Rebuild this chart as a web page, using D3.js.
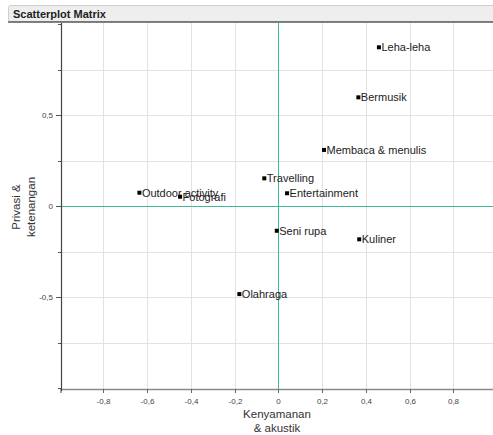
<!DOCTYPE html>
<html>
<head>
<meta charset="utf-8">
<script src="https://cdn.jsdelivr.net/npm/d3@7"></script>
<style>
  html, body { margin: 0; padding: 0; background: #fff; }
  svg { display: block; font-family: Arial, "Liberation Sans", sans-serif; }
</style>
</head>
<body>
<svg id="chart" width="493" height="435"></svg>
<script>
// ---- data ----
const labels = ["Leha-leha", "Bermusik", "Membaca & menulis", "Travelling", "Entertainment",
                "Outdoor activity", "Fotografi", "Seni rupa", "Kuliner", "Olahraga"];
const xValues = [0.46, 0.366, 0.209, -0.064, 0.04, -0.635, -0.449, -0.007, 0.37, -0.178];
const yValues = [0.872, 0.597, 0.308, 0.152, 0.07, 0.073, 0.051, -0.136, -0.183, -0.484];
const xTicks = [-0.8, -0.6, -0.4, -0.2, 0, 0.2, 0.4, 0.6, 0.8];
const yTicks = [-0.5, 0, 0.5];
const yMinorTicks = [-1, -0.75, -0.25, 0.25, 0.75, 1];
const yGrid = [-0.75, -0.5, -0.25, 0.25, 0.5, 0.75];
const title = "Scatterplot Matrix";
const xTitle = ["Kenyamanan", "& akustik"];
const yTitle = ["Privasi &", "ketenangan"];

const fmt = v => (v === 0 ? "0" : d3.format(".1f")(v).replace(".", ",").replace("−", "-"));

const svg = d3.select("#chart");
const W = 493;
const plot = { left: 61, right: 493, top: 23, bottom: 389 };

const x = d3.scaleLinear().domain([-1, 1]).range([59.55, 497.05]);
const y = d3.scaleLinear().domain([-1, 1]).range([388, 24]);

// title bar
svg.append("rect").attr("x", 8.5).attr("y", 5.5).attr("width", W).attr("height", 16)
  .attr("rx", 2).attr("fill", "#eeeeee").attr("stroke", "#cfcfcf");
svg.append("line").attr("x1", 8).attr("x2", W).attr("y1", 22).attr("y2", 22)
  .attr("stroke", "#5a5a5a").attr("stroke-width", 1.5);
svg.append("text").attr("x", 13).attr("y", 17.5).attr("font-size", 11)
  .attr("font-weight", "bold").attr("fill", "#222").text(title);

// clip
svg.append("clipPath").attr("id", "clip").append("rect")
  .attr("x", plot.left).attr("y", plot.top)
  .attr("width", plot.right - plot.left).attr("height", plot.bottom - plot.top);

const g = svg.append("g").attr("clip-path", "url(#clip)");

// grid
g.selectAll(".vg").data(xTicks.filter(d => d !== 0)).enter().append("line")
  .attr("x1", d => Math.round(x(d)) + 0.5).attr("x2", d => Math.round(x(d)) + 0.5)
  .attr("y1", plot.top).attr("y2", plot.bottom)
  .attr("stroke", "#e2e2e2").attr("stroke-width", 1);
g.selectAll(".hg").data(yGrid).enter().append("line")
  .attr("y1", d => Math.round(y(d)) + 0.5).attr("y2", d => Math.round(y(d)) + 0.5)
  .attr("x1", plot.left).attr("x2", plot.right)
  .attr("stroke", "#e2e2e2").attr("stroke-width", 1);

// zero lines
g.append("line").attr("x1", Math.round(x(0)) + 0.5).attr("x2", Math.round(x(0)) + 0.5)
  .attr("y1", plot.top).attr("y2", plot.bottom).attr("stroke", "#3fb99a");
g.append("line").attr("y1", Math.round(y(0)) + 0.5).attr("y2", Math.round(y(0)) + 0.5)
  .attr("x1", plot.left).attr("x2", plot.right).attr("stroke", "#3fb99a");

// x axis
svg.append("line").attr("x1", plot.left).attr("x2", plot.right)
  .attr("y1", plot.bottom + 0.5).attr("y2", plot.bottom + 0.5)
  .attr("stroke", "#8a8a8a").attr("stroke-width", 1.5);
const xt = svg.selectAll(".xt").data(xTicks).enter().append("g")
  .attr("transform", d => `translate(${Math.round(x(d)) + 0.5},0)`);
xt.append("line").attr("y1", plot.bottom).attr("y2", plot.bottom + 4).attr("stroke", "#666");
xt.append("text").attr("y", 404).attr("text-anchor", "middle").attr("font-size", 8)
  .attr("fill", "#444").text(d => fmt(d));
svg.append("line").attr("x1", plot.left).attr("x2", plot.left)
  .attr("y1", plot.bottom).attr("y2", plot.bottom + 4).attr("stroke", "#444");

// y axis
svg.append("line").attr("x1", plot.left + 0.5).attr("x2", plot.left + 0.5)
  .attr("y1", plot.top).attr("y2", plot.bottom + 2).attr("stroke", "#444").attr("stroke-width", 1.2);
svg.selectAll(".ymt").data(yMinorTicks).enter().append("line")
  .attr("x1", plot.left - 3).attr("x2", plot.left)
  .attr("y1", d => Math.round(y(d)) + 0.5).attr("y2", d => Math.round(y(d)) + 0.5)
  .attr("stroke", "#555");
const yt = svg.selectAll(".yt").data(yTicks).enter().append("g")
  .attr("transform", d => `translate(0,${Math.round(y(d)) + 0.5})`);
yt.append("line").attr("x1", plot.left - 5).attr("x2", plot.left).attr("stroke", "#555");
yt.append("text").attr("x", 53).attr("dy", "0.35em").attr("text-anchor", "end")
  .attr("font-size", 8).attr("fill", "#444").text(d => fmt(d));

// axis titles
svg.selectAll(".xtt").data(xTitle).enter().append("text")
  .attr("x", 277).attr("y", (d, i) => 418 + i * 14).attr("text-anchor", "middle")
  .attr("font-size", 11.5).attr("fill", "#333").text(d => d);
svg.selectAll(".ytt").data(yTitle).enter().append("text")
  .attr("transform", (d, i) => `translate(${20 + i * 15},207) rotate(-90)`)
  .attr("text-anchor", "middle").attr("font-size", 11.5).attr("fill", "#333").text(d => d);

// points
const pts = svg.selectAll(".pt").data(labels).enter().append("g")
  .attr("transform", (d, i) => `translate(${x(xValues[i])},${y(yValues[i])})`);
pts.append("rect").attr("x", -2).attr("y", -2).attr("width", 4).attr("height", 4).attr("fill", "#000");
pts.append("text").attr("x", 2.5).attr("dy", "0.36em").attr("font-size", 11)
  .attr("fill", "#222").text(d => d);
</script>
</body>
</html>
